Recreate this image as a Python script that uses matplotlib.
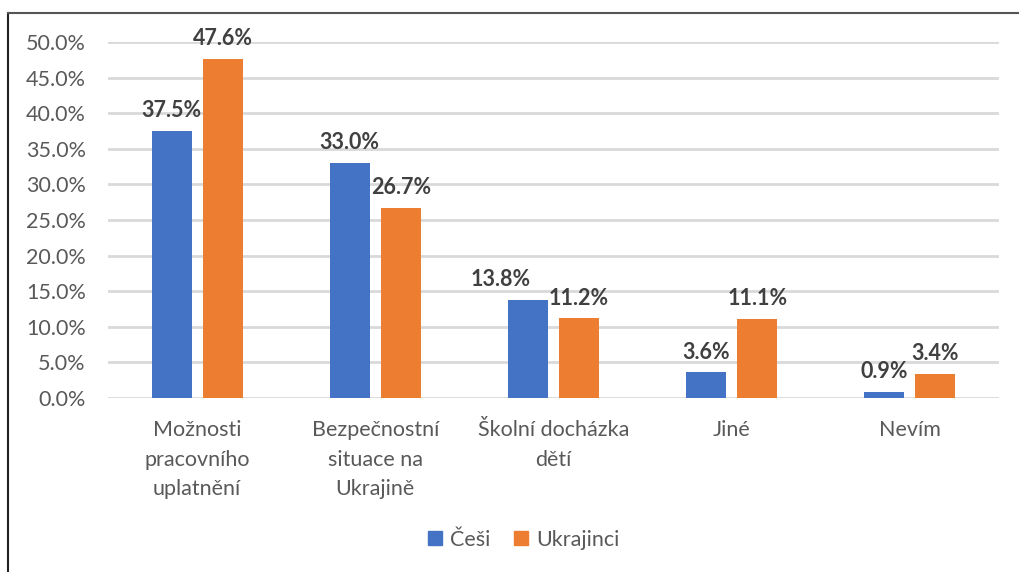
import numpy as np
import matplotlib.pyplot as plt
from matplotlib.lines import Line2D
from matplotlib.ticker import FuncFormatter

plt.rcParams['font.family'] = ['Lato', 'DejaVu Sans']

categories = ['Možnosti\npracovního\nuplatnění', 'Bezpečnostní\nsituace na\nUkrajině',
              'Školní docházka\ndětí', 'Jiné', 'Nevím']
cesi = [37.5, 33.0, 13.8, 3.6, 0.9]
ukrajinci = [47.6, 26.7, 11.2, 11.1, 3.4]
series_names = ['Češi', 'Ukrajinci']
colors = ['#4472c4', '#ed7d31']

fig = plt.figure(figsize=(10.19, 5.72), dpi=100)
ax = fig.add_axes([108 / 1019, 1 - 398 / 572, (999 - 108) / 1019, (398 - 42) / 572])

x = np.arange(len(categories))
w = 0.224
off = 0.143
b1 = ax.bar(x - off, cesi, w, color=colors[0], label=series_names[0], zorder=3)
b2 = ax.bar(x + off, ukrajinci, w, color=colors[1], label=series_names[1], zorder=3)

# Excel nudged the 13.8% label left so it doesn't collide with 11.2%
shift_cesi = [0, 0, -20, 0, 0]
shift_ukr = [0, 0, 0, 0, 0]
for bars, vals, shifts in ((b1, cesi, shift_cesi), (b2, ukrajinci, shift_ukr)):
    for b, v, dx in zip(bars, vals, shifts):
        ax.annotate(f'{v:.1f}%', (b.get_x() + b.get_width() / 2, v), xytext=(dx, 7),
                    textcoords='offset points', ha='center', va='bottom',
                    fontsize=15.5, fontweight='bold', color='#404040')

ax.set_xlim(-0.5, len(categories) - 0.5)
ax.set_ylim(0, 50)
ax.set_yticks(np.arange(0, 51, 5))
ax.yaxis.set_major_formatter(FuncFormatter(lambda v, p: f'{v:.1f}%'))
ax.set_xticks(x)
ax.set_xticklabels(categories, linespacing=1.6)
ax.tick_params(axis='both', length=0, labelsize=15.5, labelcolor='#595959')
ax.tick_params(axis='y', pad=16)
ax.tick_params(axis='x', pad=16)
ax.grid(axis='y', color='#d9d9d9', linewidth=2, zorder=0)
for s in ax.spines.values():
    s.set_visible(False)

handles = [Line2D([], [], marker='s', linestyle='none', markersize=9.5, color=c) for c in colors]
fig.legend(handles, series_names, loc='center', bbox_to_anchor=(523 / 1019, 1 - 540 / 572),
           ncol=2, frameon=False, fontsize=15.5, labelcolor='#595959',
           handlelength=0.8, handletextpad=0.3, columnspacing=1.0)

# frame lines at left and top
fig.add_artist(Line2D([8 / 1019, 8 / 1019], [0, 1 - 13 / 572], transform=fig.transFigure,
                      color='#222222', linewidth=1.5))
fig.add_artist(Line2D([8 / 1019, 1], [1 - 13 / 572, 1 - 13 / 572], transform=fig.transFigure,
                      color='#555555', linewidth=1.5))

fig.savefig('out.png', dpi=100)
